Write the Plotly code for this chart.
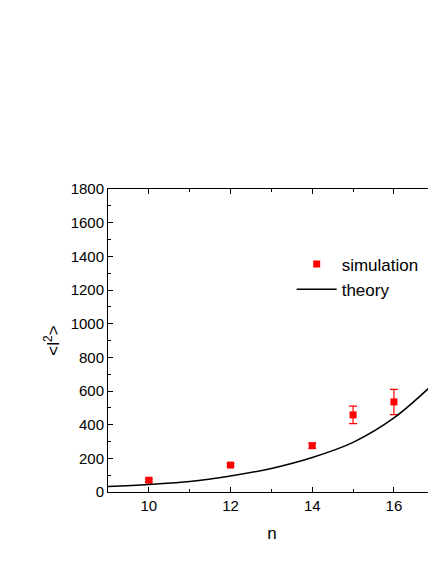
import plotly.graph_objects as go

sim_n = [10, 12, 14, 15, 16, 17]
sim_v = [70, 160, 275, 458, 535, 835]
sim_err = [8, 8, 15, 52, 75, 95]
th_n = [9, 10, 11, 12, 13, 14, 15, 16, 17]
th_v = [33, 45, 62, 95, 140, 205, 295, 440, 650]

fig = go.Figure()
fig.add_trace(go.Scatter(x=sim_n, y=sim_v, mode="markers", name="simulation", cliponaxis=False,
    marker=dict(symbol="square", color="#ff0000", size=7),
    error_y=dict(type="data", array=sim_err, color="#ff0000", thickness=1.2, width=4)))
fig.add_trace(go.Scatter(x=th_n, y=th_v, mode="lines", name="theory",
    line=dict(color="black", width=1.5, shape="spline")))
ax = dict(showgrid=False, zeroline=False, showline=True, linecolor="black", linewidth=1,
          ticks="inside", ticklen=5, tickcolor="black", mirror="ticks",
          tickfont=dict(family="Liberation Sans, Arial", size=15, color="black"),
          title_font=dict(family="Liberation Sans, Arial", size=17, color="black"))
fig.update_layout(
    width=436, height=564, plot_bgcolor="white", paper_bgcolor="white",
    margin=dict(l=100, r=8, t=181, b=80),
    xaxis=dict(range=[9, 17.03], dtick=2, title=dict(text="n", standoff=14),
               minor=dict(ticks="inside", ticklen=3, dtick=1, tickcolor="black"), **ax),
    yaxis=dict(range=[0, 1800], dtick=200, title=dict(text="&lt;l<sup>2</sup>&gt;", standoff=6),
               minor=dict(ticks="inside", ticklen=3, dtick=100, tickcolor="black"), **ax),
    legend=dict(x=0.56, y=0.81, xanchor="left", yanchor="top", bgcolor="rgba(0,0,0,0)",
                font=dict(family="Liberation Sans, Arial", size=17, color="black"),
                tracegroupgap=0, itemwidth=40),
    showlegend=True,
)
fig.write_html("out.html")
